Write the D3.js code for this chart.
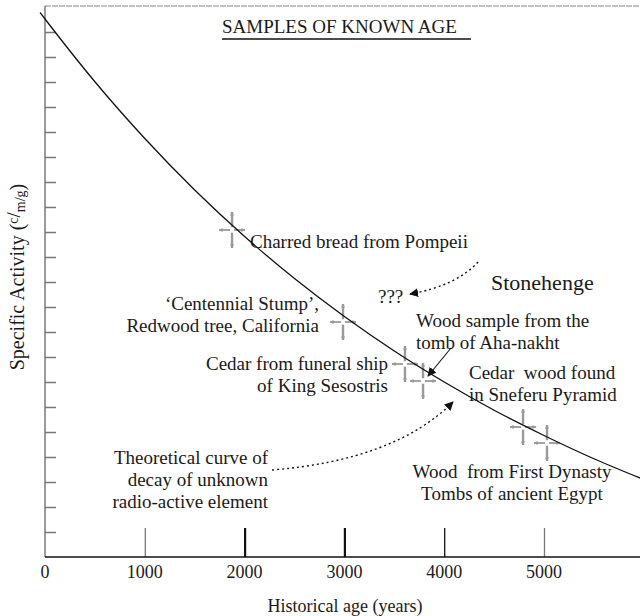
<!DOCTYPE html>
<html>
<head>
<meta charset="utf-8">
<script src="https://cdn.jsdelivr.net/npm/d3@7"></script>
<style>
  body { margin: 0; background: #fff; }
  svg text { font-family: "Liberation Serif", "Times New Roman", serif; fill: #1a1a1a; white-space: pre; }
</style>
</head>
<body>
<div id="chart"></div>
<script>
// values
var xTickYears = [1000, 2000, 3000, 4000, 5000];
var xLabelYears = [0, 1000, 2000, 3000, 4000, 5000];
var yTickValues = [1, 2, 3, 4, 5, 6, 7, 8, 9, 10, 11, 12, 13, 14, 15, 16, 17, 18, 19, 20, 21];

var sampleAge = [1874, 2986, 3607, 3788, 4790, 5030];
var sampleActivity = [13.08, 9.4, 7.72, 7.04, 5.2, 4.56];

var curveAge = [-50, 0, 500, 1000, 1500, 2000, 2500, 3000, 3500, 4000, 4500, 5000, 5500, 6000];
var curveActivity = [21.78, 21.52, 19.01, 16.74, 14.68, 12.82, 11.14, 9.62, 8.24, 7.0, 5.87, 4.86, 3.93, 3.1];

var ageError = 130;
var activityError = 0.72;

var width = 640, height = 616;

var svg = d3.select('#chart').append('svg')
    .attr('width', width)
    .attr('height', height);

var x = d3.scaleLinear().domain([0, 6000]).range([45, 643.8]);
var y = d3.scaleLinear().domain([0, 22]).range([557, 7]);

var defs = svg.append('defs');
defs.append('marker')
    .attr('id', 'head')
    .attr('viewBox', '0 0 10 10')
    .attr('refX', 9).attr('refY', 5)
    .attr('markerWidth', 9).attr('markerHeight', 9)
    .attr('markerUnits', 'userSpaceOnUse')
    .attr('orient', 'auto')
    .append('path')
    .attr('d', 'M0,0 L10,5 L0,10 Z')
    .attr('fill', '#111');

defs.append('marker')
    .attr('id', 'tip')
    .attr('viewBox', '0 0 10 10')
    .attr('refX', 9).attr('refY', 5)
    .attr('markerWidth', 4).attr('markerHeight', 4)
    .attr('markerUnits', 'userSpaceOnUse')
    .attr('orient', 'auto')
    .append('path')
    .attr('d', 'M0,0 L10,5 L0,10 Z')
    .attr('fill', '#999');

// frame: top line and left axis
svg.append('line')
    .attr('x1', x(0)).attr('x2', width)
    .attr('y1', 6).attr('y2', 6)
    .attr('stroke', '#888').attr('stroke-width', 1)
    .attr('stroke-dasharray', '6,1');

svg.append('line')
    .attr('x1', x(0)).attr('x2', x(0))
    .attr('y1', 6).attr('y2', y(0))
    .attr('stroke', '#666').attr('stroke-width', 1.3);

// y ticks, no labels
var yAxis = d3.axisRight(y).tickValues(yTickValues).tickSize(11).tickFormat('');
svg.append('g')
    .attr('transform', 'translate(' + x(0) + ',0)')
    .call(yAxis)
    .call(function(g) {
        g.select('.domain').remove();
        g.selectAll('.tick line').attr('stroke', '#777').attr('stroke-width', 1.5);
    });

// x axis with tall ticks
var xAxis = d3.axisTop(x).tickValues(xTickYears).tickSize(29).tickFormat('');
svg.append('g')
    .attr('transform', 'translate(0,' + y(0) + ')')
    .call(xAxis)
    .call(function(g) {
        g.select('.domain').remove();
        g.selectAll('.tick line')
            .attr('stroke', function(d) { return d === 1000 || d === 5000 ? '#777' : '#111'; })
            .attr('stroke-width', function(d) { return d === 2000 || d === 3000 ? 2.2 : 1.3; });
    });

svg.append('line')
    .attr('x1', x(0)).attr('x2', width)
    .attr('y1', y(0)).attr('y2', y(0))
    .attr('stroke', '#111').attr('stroke-width', 1.5);

svg.append('g')
    .selectAll('text')
    .data(xLabelYears)
    .join('text')
    .attr('x', function(d) { return x(d); })
    .attr('y', 578)
    .attr('text-anchor', 'middle')
    .attr('font-size', 18)
    .text(function(d) { return d; });

svg.append('text')
    .attr('x', 345).attr('y', 612)
    .attr('text-anchor', 'middle')
    .attr('font-size', 18)
    .text('Historical age (years)');

// y axis title with the c/m/g fraction
var yTitle = svg.append('text')
    .attr('transform', 'translate(24,277) rotate(-90)')
    .attr('text-anchor', 'middle')
    .attr('font-size', 20);
yTitle.append('tspan').text('Specific Activity (');
yTitle.append('tspan').attr('font-size', 14).attr('dy', -6).text('c');
yTitle.append('tspan').attr('font-size', 19).attr('dy', 2).text('/');
yTitle.append('tspan').attr('font-size', 14).attr('dy', 5).text('m/g');
yTitle.append('tspan').attr('dy', -1).text(')');

// title
svg.append('text')
    .attr('x', 222).attr('y', 33)
    .attr('font-size', 19)
    .text('SAMPLES OF KNOWN AGE');
svg.append('line')
    .attr('x1', 222).attr('x2', 471)
    .attr('y1', 39).attr('y2', 39)
    .attr('stroke', '#111').attr('stroke-width', 1.3);

// sample crosses
var crosses = svg.append('g').selectAll('g')
    .data(sampleAge.map(function(a, i) { return { age: a, act: sampleActivity[i] }; }))
    .join('g');

var arms = [
    [0, activityError], [0, -activityError], [ageError, 0], [-ageError, 0]
];
arms.forEach(function(arm) {
    crosses.append('line')
        .attr('x1', function(d) { return x(d.age + arm[0] * 0.15); })
        .attr('y1', function(d) { return y(d.act + arm[1] * 0.15); })
        .attr('x2', function(d) { return x(d.age + arm[0]); })
        .attr('y2', function(d) { return y(d.act + arm[1]); })
        .attr('stroke', '#9a9a9a')
        .attr('stroke-width', function() { return arm[0] === 0 ? 2.4 : 1.8; })
        .attr('marker-end', 'url(#tip)');
});

// theoretical curve
var line = d3.line()
    .x(function(d, i) { return x(curveAge[i]); })
    .y(function(d) { return y(d); })
    .curve(d3.curveMonotoneX);

svg.append('path')
    .datum(curveActivity)
    .attr('d', line)
    .attr('fill', 'none')
    .attr('stroke', '#111')
    .attr('stroke-width', 1.3);

// annotations
function label(lines, px, py, anchor, size) {
    var t = svg.append('text')
        .attr('x', px).attr('y', py)
        .attr('text-anchor', anchor || 'start')
        .attr('font-size', size || 19);
    lines.forEach(function(s, i) {
        t.append('tspan').attr('x', px).attr('dy', i === 0 ? 0 : 22).text(s);
    });
}

label(['Charred bread from Pompeii'], 250, 248);
label(['Stonehenge'], 491, 290, 'start', 22);
label(['???'], 378, 303);
label(['\u2018Centennial Stump\u2019,', 'Redwood tree, California'], 319, 310, 'end');
label(['Wood sample from the', 'tomb of Aha-nakht'], 416, 327);
label(['Cedar from funeral ship', 'of King Sesostris'], 388, 370, 'end');
label(['Cedar  wood found', 'in Sneferu Pyramid'], 469, 379);
label(['Theoretical curve of', 'decay of unknown', 'radio-active element'], 268, 464, 'end');
label(['Wood  from First Dynasty', 'Tombs of ancient Egypt'], 512, 478, 'middle');

svg.append('path')
    .attr('d', 'M478,262 Q456,286 410,294')
    .attr('fill', 'none')
    .attr('stroke', '#111').attr('stroke-width', 1.4)
    .attr('stroke-dasharray', '2,3')
    .attr('marker-end', 'url(#head)');

svg.append('path')
    .attr('d', 'M451,348 L428,376')
    .attr('fill', 'none')
    .attr('stroke', '#111').attr('stroke-width', 1.1)
    .attr('marker-end', 'url(#head)');

svg.append('path')
    .attr('d', 'M272,470 Q395,460 453,402')
    .attr('fill', 'none')
    .attr('stroke', '#111').attr('stroke-width', 1.4)
    .attr('stroke-dasharray', '2,3')
    .attr('marker-end', 'url(#head)');
</script>
</body>
</html>
